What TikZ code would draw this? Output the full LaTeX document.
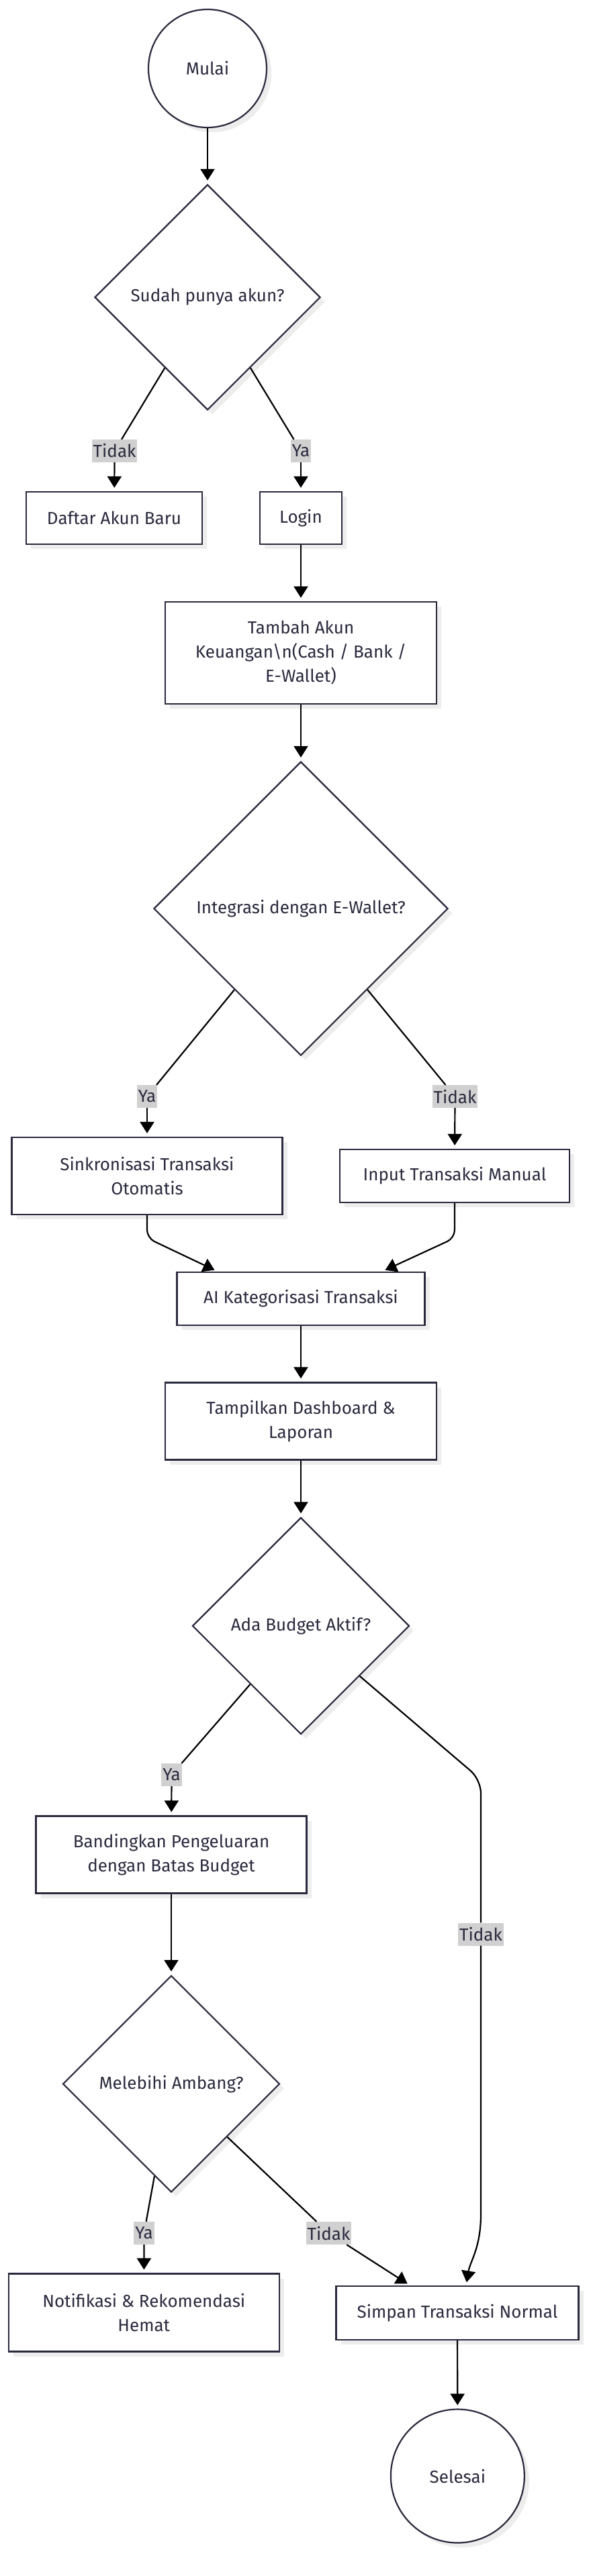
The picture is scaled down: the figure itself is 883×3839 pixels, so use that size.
\documentclass[tikz,border=0pt]{standalone}
\usepackage{fontspec}
\setmainfont{Fira Sans}
\usetikzlibrary{arrows.meta,calc,positioning,shapes.geometric,shadows}
\definecolor{nodeline}{RGB}{42,42,62}
\definecolor{lblgray}{RGB}{208,208,208}

\begin{document}
\begin{tikzpicture}[x=1pt, y=-1pt, >={Triangle[length=17pt,width=21pt]},
    font=\fontsize{26}{36}\selectfont, text=nodeline,
    base/.style={draw=nodeline, line width=2.2pt, fill=white, align=center,
      drop shadow={shadow xshift=7pt, shadow yshift=-7pt, fill=black!7, opacity=1}},
    box/.style={base, rectangle, inner sep=0pt},
    decision/.style={base, diamond, aspect=1, inner sep=0pt},
    terminal/.style={base, circle, inner sep=0pt},
    flow/.style={->, line width=2.2pt, draw=black, shorten >=5pt},
    link/.style={line width=2.2pt, draw=black},
    lbl/.style={fill=lblgray, inner xsep=2pt, inner ysep=0pt, minimum height=34pt}]
    \path[fill=white, use as bounding box] (0,0) rectangle (883,3839);

    % Awal dan akun
    \node[terminal, minimum size=176pt] (mulai) at (309,102) {Mulai};
    \node[decision, minimum size=336pt] (cekAkun) at (309,443) {Sudah punya akun?};
    \node[box, minimum width=262pt, minimum height=78pt] (daftar) at (170,772) {Daftar Akun Baru};
    \node[box, minimum width=122pt, minimum height=78pt] (login) at (448,772) {Login};
    \node[box, minimum width=404pt, minimum height=152pt] (tambah) at (448,973)
        {Tambah Akun\\Keuangan\textbackslash n(Cash / Bank /\\E-Wallet)};

    % Input transaksi
    \node[decision, minimum size=438pt] (cekWallet) at (448,1354) {Integrasi dengan E-Wallet?};
    \node[box, minimum width=403pt, minimum height=115pt] (sinkron) at (219,1752.5) {Sinkronisasi Transaksi\\Otomatis};
    \node[box, minimum width=342pt, minimum height=79pt] (manual) at (677,1752.5) {Input Transaksi Manual};
    \node[box, minimum width=369pt, minimum height=79pt] (kategori) at (448,1935.5) {AI Kategorisasi Transaksi};
    \node[box, minimum width=404pt, minimum height=115pt] (dashboard) at (448,2118) {Tampilkan Dashboard \&\\Laporan};

    % Budget
    \node[decision, minimum size=323pt] (cekBudget) at (448,2423) {Ada Budget Aktif?};
    \node[box, minimum width=403pt, minimum height=115pt] (banding) at (255,2764) {Bandingkan Pengeluaran\\dengan Batas Budget};
    \node[decision, minimum size=323pt] (cekAmbang) at (255,3105.6) {Melebihi Ambang?};
    \node[box, minimum width=403pt, minimum height=116pt] (notif) at (214.3,3446.5) {Notifikasi \& Rekomendasi\\Hemat};
    \node[box, minimum width=361pt, minimum height=79.5pt] (simpan) at (681,3447) {Simpan Transaksi Normal};
    \node[terminal, minimum size=199pt] (selesai) at (681.4,3690) {Selesai};

    % Label cabang
    \node[lbl] (tidak1) at (170.6,672) {Tidak};
    \node[lbl] (ya1) at (448,672) {Ya};
    \node[lbl] (ya2) at (219,1634) {Ya};
    \node[lbl] (tidak2) at (677.5,1634) {Tidak};
    \node[lbl] (ya3) at (255.5,2645) {Ya};
    \node[lbl] (tidak3) at (716,2882.5) {Tidak};
    \node[lbl] (ya4) at (214.5,3328) {Ya};
    \node[lbl] (tidak4) at (489.5,3328) {Tidak};

    \coordinate (s1) at (219,1845);
    \coordinate (m1) at (677,1845);
    \coordinate (b1) at (716,2652);
    \coordinate (b2) at (716,3300);

    % Panah
    \draw[flow] (mulai) -- (cekAkun);
    \draw[link] (cekAkun) -- (tidak1);
    \draw[flow] (tidak1) -- (daftar);
    \draw[link] (cekAkun) -- (ya1);
    \draw[flow] (ya1) -- (login);
    \draw[flow] (login) -- (tambah);
    \draw[flow] (tambah) -- (cekWallet);
    \draw[link] (cekWallet) -- (ya2);
    \draw[flow] (ya2) -- (sinkron);
    \draw[link] (cekWallet) -- (tidak2);
    \draw[flow] (tidak2) -- (manual);
    \draw[flow, rounded corners=12pt] (sinkron) -- (s1) -- ($(kategori.north)+(-124,0)$);
    \draw[flow, rounded corners=12pt] (manual) -- (m1) -- ($(kategori.north)+(121,0)$);
    \draw[flow] (kategori) -- (dashboard);
    \draw[flow] (dashboard) -- (cekBudget);
    \draw[link] (cekBudget) -- (ya3);
    \draw[flow] (ya3) -- (banding);
    \draw[link, rounded corners=20pt] (cekBudget) -- (b1) -- (tidak3);
    \draw[flow] (tidak3) -- (b2) .. controls (716,3350) and (700,3370) .. ($(simpan.north)+(13,0)$);
    \draw[flow] (banding) -- (cekAmbang);
    \draw[link] (cekAmbang) -- (ya4);
    \draw[flow] (ya4) -- (notif);
    \draw[link] (cekAmbang) -- (tidak4);
    \draw[flow] (tidak4) -- ($(simpan.north)+(-70,0)$);
    \draw[flow] (simpan) -- (selesai);
\end{tikzpicture}
\end{document}
